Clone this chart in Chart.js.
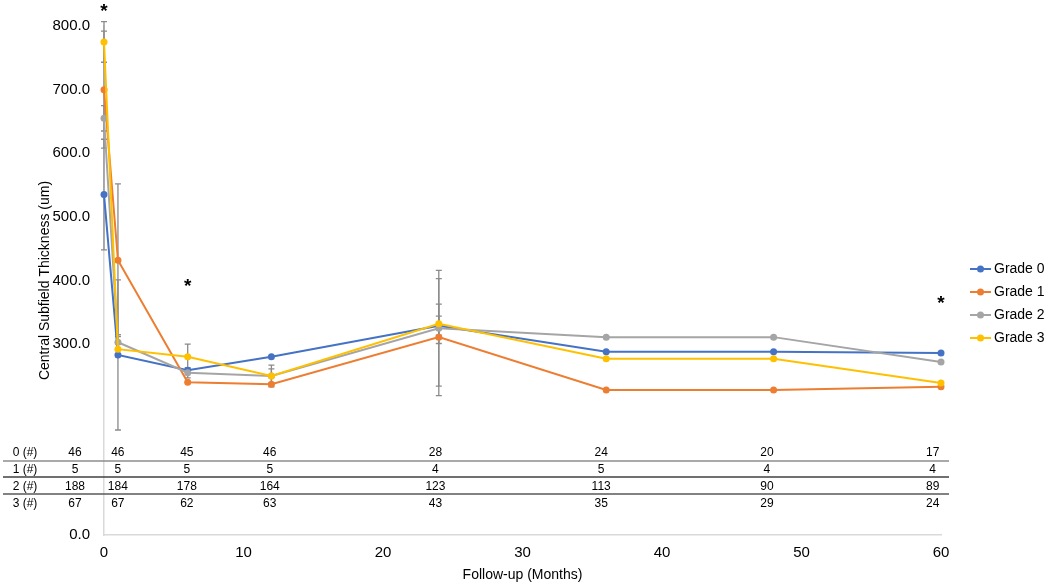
<!DOCTYPE html>
<html><head><meta charset="utf-8">
<script src="https://cdn.jsdelivr.net/npm/chart.js@4.4.1/dist/chart.umd.min.js"></script>
<style>html,body{margin:0;padding:0;background:#fff;}#wrap{width:1050px;height:583px;position:relative;}</style>
</head><body><div id="wrap"><canvas id="c" width="1050" height="583"></canvas></div>
<script>
// ---- data ----
const months = [0, 1, 6, 12, 24, 36, 48, 60];
const seriesNames = ['Grade 0', 'Grade 1', 'Grade 2', 'Grade 3'];
const grade0 = [535, 283, 259, 280, 329, 288, 288, 286];
const grade1 = [700, 432, 240, 237, 311, 228, 228, 233];
const grade2 = [655, 303, 255, 250, 325, 311, 311, 272];
const grade3 = [775, 292, 280, 250, 332, 277, 277, 239];
const err0 = [87, 118, 0, 0, 15, 0, 0, 0];
const err1 = [92, 120, 0, 0, 92, 0, 0, 0];
const err2 = [20, 12, 8, 17, 91, 0, 0, 0];
const err3 = [32, 8, 20, 11, 31, 0, 0, 0];
const countLabels = ['0 (#)', '1 (#)', '2 (#)', '3 (#)'];
const count0 = [46, 46, 45, 46, 28, 24, 20, 17];
const count1 = [5, 5, 5, 5, 4, 5, 4, 4];
const count2 = [188, 184, 178, 164, 123, 113, 90, 89];
const count3 = [67, 67, 62, 63, 43, 35, 29, 24];
const xTickValues = [0, 10, 20, 30, 40, 50, 60];
const yTickLabelled = [0, 300, 400, 500, 600, 700, 800];
const asteriskX = [0, 6, 60];
const asteriskY = [822, 390, 363];
const xTitle = 'Follow-up (Months)';
const yTitle = 'Central Subfield Thickness (um)';

const colors = ['#4472C4', '#ED7D31', '#A5A5A5', '#FFC000'];
const seriesVals = [grade0, grade1, grade2, grade3];
const seriesErr = [err0, err1, err2, err3];
const counts = [count0, count1, count2, count3];
const FONT = "'Liberation Sans', Arial, Helvetica, sans-serif";
Chart.defaults.font.family = FONT;
Chart.defaults.color = '#000';

const datasets = seriesVals.map((vals, i) => ({
  label: seriesNames[i],
  data: months.map((m, j) => ({x: m, y: vals[j]})),
  borderColor: colors[i],
  backgroundColor: colors[i],
  pointBackgroundColor: colors[i],
  pointBorderColor: colors[i],
  pointRadius: 3.5,
  pointBorderWidth: 0,
  borderWidth: 2,
  tension: 0,
  clip: false,
  order: 3 - i
}));

const errorBars = {
  id: 'errorBars',
  beforeDatasetsDraw(chart) {
    const {ctx, scales: {x, y}} = chart;
    ctx.save();
    ctx.strokeStyle = '#8a8a8a';
    ctx.lineWidth = 1.3;
    seriesErr.forEach((e, di) => {
      const vals = seriesVals[di];
      months.forEach((m, i) => {
        if (!e[i]) return;
        const px = x.getPixelForValue(m);
        const yt = y.getPixelForValue(vals[i] + e[i]);
        const yb = y.getPixelForValue(vals[i] - e[i]);
        ctx.beginPath();
        ctx.moveTo(px, yt); ctx.lineTo(px, yb);
        ctx.moveTo(px - 3, yt); ctx.lineTo(px + 3, yt);
        ctx.moveTo(px - 3, yb); ctx.lineTo(px + 3, yb);
        ctx.stroke();
      });
    });
    ctx.restore();
  }
};

const extras = {
  id: 'extras',
  afterDraw(chart) {
    const {ctx, scales: {x, y}} = chart;
    ctx.save();
    // count table
    const rowY = [453, 470, 487, 504];
    const lineY = [461, 477, 494];
    const lineCols = ['#8c8c8c', '#404040', '#595959'];
    lineY.forEach((ly, i) => {
      ctx.strokeStyle = lineCols[i];
      ctx.lineWidth = 1.5;
      ctx.beginPath(); ctx.moveTo(3, ly); ctx.lineTo(949, ly); ctx.stroke();
    });
    ctx.fillStyle = '#000';
    ctx.font = '12px ' + FONT;
    ctx.textAlign = 'center';
    ctx.textBaseline = 'middle';
    counts.forEach((row, r) => {
      ctx.fillText(countLabels[r], 25, rowY[r]);
      months.forEach((m, i) => {
        const px = m === 0 ? x.left - 29 : x.left + (x.getPixelForValue(m) - x.left) * 0.99;
        ctx.fillText(String(row[i]), px, rowY[r]);
      });
    });
    // asterisks
    ctx.font = 'bold 19px ' + FONT;
    asteriskX.forEach((ax, i) => {
      ctx.fillText('*', x.getPixelForValue(ax), y.getPixelForValue(asteriskY[i]));
    });
    // legend
    ctx.font = '14px ' + FONT;
    ctx.textAlign = 'left';
    seriesNames.forEach((name, i) => {
      const ly = 269 + i * 23;
      ctx.strokeStyle = colors[i];
      ctx.lineWidth = 2;
      ctx.beginPath(); ctx.moveTo(970, ly); ctx.lineTo(991, ly); ctx.stroke();
      ctx.fillStyle = colors[i];
      ctx.beginPath(); ctx.arc(980.5, ly, 3.5, 0, Math.PI * 2); ctx.fill();
      ctx.fillStyle = '#000';
      ctx.fillText(name, 994, ly);
    });
    ctx.restore();
  }
};

new Chart(document.getElementById('c'), {
  type: 'line',
  data: {datasets},
  plugins: [errorBars, extras],
  options: {
    responsive: false,
    devicePixelRatio: 1,
    animation: false,
    layout: {padding: {left: 0, right: 109, top: 26, bottom: 0}},
    plugins: {legend: {display: false}, tooltip: {enabled: false}},
    scales: {
      x: {
        type: 'linear', min: 0, max: 60,
        afterBuildTicks: s => { s.ticks = xTickValues.map(v => ({value: v})); },
        afterFit: s => { s.height = 48; },
        grid: {display: false, drawTicks: false},
        border: {display: true, color: '#d9d9d9', width: 1.5},
        ticks: {padding: 9, color: '#000', font: {size: 15}, maxRotation: 0, autoSkip: false},
        title: {display: true, text: xTitle, color: '#000', font: {size: 14}, padding: {top: 0, bottom: -1}}
      },
      y: {
        min: 0, max: 800,
        afterFit: s => { s.width = 104; },
        grid: {display: false, drawTicks: false},
        border: {display: true, color: '#d9d9d9', width: 1.5},
        ticks: {stepSize: 100, padding: 14, color: '#000', font: {size: 15},
          callback: v => yTickLabelled.includes(v) ? v.toFixed(1) : ''},
        title: {display: true, text: yTitle, color: '#000', font: {size: 14}, padding: {top: 37, bottom: 0}}
      }
    }
  }
});
</script></body></html>
